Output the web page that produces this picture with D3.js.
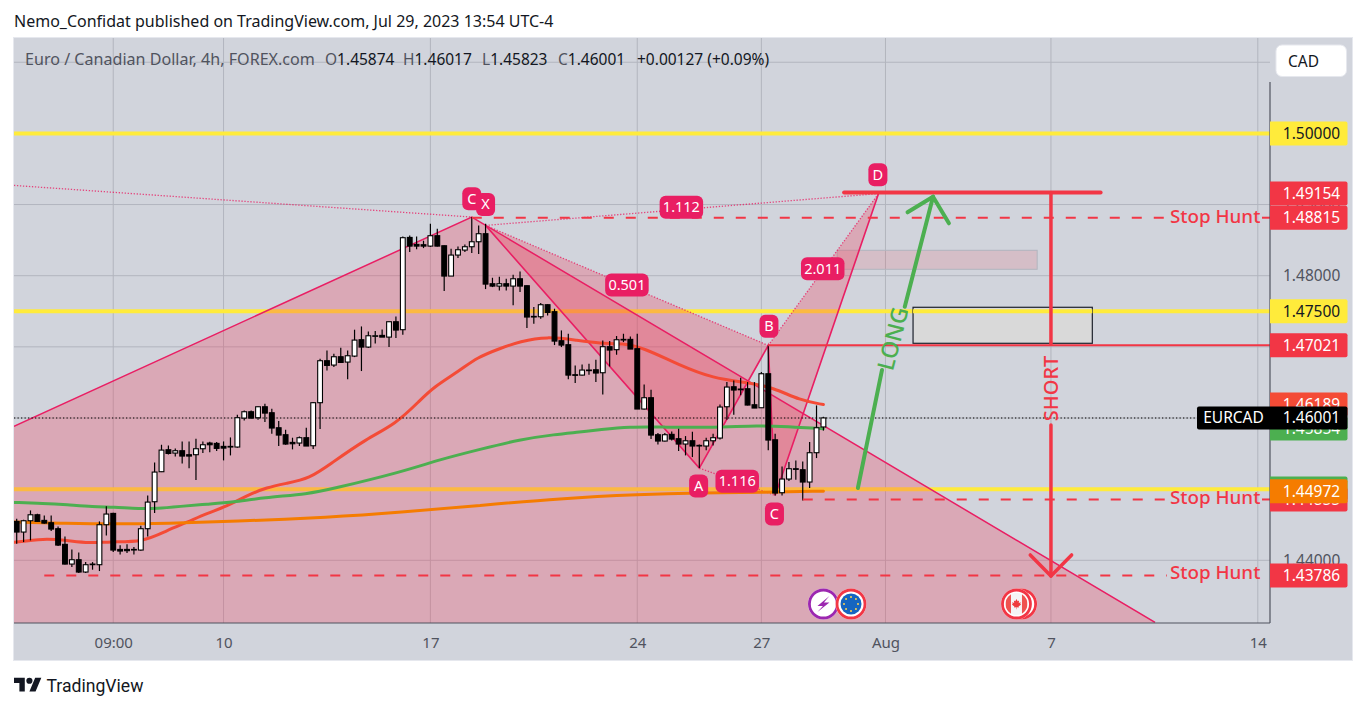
<!DOCTYPE html>
<html><head><meta charset="utf-8">
<script src="https://cdn.jsdelivr.net/npm/d3@7"></script>
<style>html,body{margin:0;padding:0;background:#fff;overflow:hidden}svg{display:block}text{font-family:"Noto Sans",sans-serif}</style>
</head><body><svg id="c" width="1366" height="709"></svg>
<script>
const opens=[1.44547,1.44397,1.44556,1.44640,1.44561,1.44528,1.44444,1.44224,1.43947,1.44008,1.43835,1.43942,1.43938,1.44500,1.44659,1.44153,1.44153,1.44153,1.44144,1.44444,1.44823,1.45245,1.45554,1.45507,1.45540,1.45484,1.45484,1.45568,1.45648,1.45643,1.45601,1.45601,1.45592,1.45999,1.46088,1.46004,1.46158,1.46074,1.45863,1.45765,1.45657,1.45648,1.45723,1.45610,1.46215,1.46805,1.46744,1.46861,1.46786,1.46870,1.47100,1.46997,1.47151,1.47161,1.47137,1.47353,1.47241,1.48538,1.48440,1.48435,1.48416,1.48562,1.48421,1.47995,1.48290,1.48360,1.48407,1.48477,1.48590,1.47887,1.47854,1.47887,1.47854,1.47957,1.47859,1.47428,1.47423,1.47592,1.47494,1.47086,1.47030,1.46608,1.46603,1.46674,1.46678,1.46636,1.47002,1.46960,1.47100,1.47105,1.46974,1.46126,1.46285,1.45765,1.45676,1.45770,1.45709,1.45634,1.45680,1.45615,1.45606,1.45680,1.45718,1.46158,1.46439,1.46407,1.46411,1.46186,1.46144,1.46622,1.45694,1.44950,1.45142,1.45287,1.45273,1.45100,1.45512,1.45874];
const highs=[1.44584,1.44570,1.44701,1.44655,1.44631,1.44631,1.44476,1.44336,1.44153,1.44111,1.43975,1.43975,1.44547,1.44758,1.44669,1.44210,1.44224,1.44186,1.44486,1.44912,1.45376,1.45624,1.45615,1.45573,1.45671,1.45671,1.45709,1.45671,1.45667,1.45662,1.45671,1.45727,1.46046,1.46107,1.46107,1.46163,1.46201,1.46130,1.45957,1.45835,1.45723,1.45741,1.45863,1.46224,1.46833,1.46950,1.46903,1.46988,1.46950,1.47241,1.47287,1.47217,1.47222,1.47245,1.47358,1.47428,1.48552,1.48566,1.48552,1.48491,1.48730,1.48660,1.48426,1.48379,1.48412,1.48440,1.48824,1.48707,1.48730,1.47971,1.47985,1.47957,1.48014,1.48060,1.47864,1.47559,1.47615,1.47597,1.47536,1.47231,1.47184,1.46739,1.46753,1.46763,1.46819,1.47091,1.47081,1.47152,1.47184,1.47147,1.47184,1.46472,1.46397,1.45788,1.45788,1.45812,1.45849,1.45746,1.45807,1.45629,1.45723,1.45779,1.46191,1.46505,1.46528,1.46566,1.46505,1.46505,1.46646,1.47020,1.45779,1.45320,1.45381,1.45404,1.45390,1.45662,1.46177,1.46017];
const lows=[1.44233,1.44256,1.44280,1.44537,1.44514,1.44411,1.44200,1.43942,1.43905,1.43821,1.43821,1.43868,1.43849,1.44350,1.44116,1.44083,1.44102,1.44083,1.44135,1.44336,1.44664,1.45240,1.45488,1.45460,1.45362,1.45292,1.45128,1.45507,1.45517,1.45535,1.45404,1.45474,1.45582,1.45966,1.45990,1.45976,1.45943,1.45779,1.45606,1.45624,1.45559,1.45606,1.45606,1.45563,1.45844,1.46669,1.46716,1.46772,1.46543,1.46856,1.46660,1.46983,1.47048,1.47137,1.46997,1.47123,1.47170,1.48332,1.48370,1.48388,1.48402,1.48412,1.47784,1.47995,1.48248,1.48332,1.48318,1.48304,1.47812,1.47840,1.47793,1.47793,1.47583,1.47770,1.47264,1.47325,1.47395,1.47442,1.47025,1.46997,1.46543,1.46491,1.46599,1.46608,1.46505,1.46332,1.46725,1.46889,1.47067,1.46969,1.46126,1.46121,1.45704,1.45629,1.45671,1.45685,1.45535,1.45474,1.45451,1.45296,1.45545,1.45615,1.45699,1.45976,1.46046,1.46318,1.46177,1.46140,1.46144,1.45545,1.44912,1.44912,1.45114,1.45132,1.44842,1.45015,1.45437,1.45823];
const closes=[1.44397,1.44556,1.44640,1.44547,1.44523,1.44439,1.44214,1.43947,1.44008,1.43835,1.43938,1.43947,1.44500,1.44650,1.44144,1.44130,1.44135,1.44148,1.44444,1.44818,1.45240,1.45549,1.45502,1.45540,1.45465,1.45465,1.45568,1.45624,1.45624,1.45573,1.45577,1.45592,1.46004,1.46088,1.45999,1.46158,1.46069,1.45859,1.45760,1.45634,1.45638,1.45723,1.45606,1.46215,1.46805,1.46739,1.46861,1.46781,1.46875,1.47095,1.46997,1.47156,1.47156,1.47137,1.47353,1.47236,1.48534,1.48416,1.48416,1.48416,1.48562,1.48416,1.47995,1.48290,1.48365,1.48407,1.48477,1.48590,1.47882,1.47854,1.47887,1.47854,1.47957,1.47854,1.47419,1.47423,1.47592,1.47484,1.47081,1.47025,1.46603,1.46603,1.46674,1.46669,1.46632,1.47002,1.46955,1.47100,1.47105,1.46969,1.46126,1.46285,1.45760,1.45676,1.45765,1.45704,1.45634,1.45680,1.45606,1.45610,1.45680,1.45723,1.46154,1.46435,1.46393,1.46397,1.46182,1.46140,1.46622,1.45690,1.44945,1.45142,1.45287,1.45278,1.45100,1.45512,1.45863,1.46001];

const redIdx=[-0.4,4,7.25,10.6,13.5,18.3,21.8,24.7,27.6,30.5,33.4,36.3,39.1,42.5,45.4,50.8,54.9,58.5,60.4,64.3,66.8,70.1,73,76.9,81.3,84.6,87.9,90.8,96.2,101,105.9,109.7,113.6,117];
const redVal=[1.44252,1.44308,1.44280,1.44237,1.44266,1.44252,1.44420,1.44533,1.44659,1.44758,1.44912,1.45025,1.45081,1.45151,1.45348,1.45714,1.45910,1.46247,1.46430,1.46669,1.46852,1.46978,1.47077,1.47147,1.47091,1.47048,1.47048,1.46992,1.46739,1.46557,1.46500,1.46430,1.46247,1.46189];
const greenIdx=[-0.4,3.9,7.25,11.1,14,17.9,20.3,23.7,27.6,31.4,35.7,42.5,45.4,55.6,61.4,67.2,73,78.1,81.7,84.6,88.9,93.7,101,107.8,111.7,117];
const greenVal=[1.44814,1.44800,1.44781,1.44753,1.44748,1.44725,1.44729,1.44757,1.44790,1.44818,1.44880,1.44936,1.44996,1.45235,1.45418,1.45559,1.45699,1.45769,1.45802,1.45836,1.45878,1.45872,1.45864,1.45896,1.45878,1.45850];
const orangeIdx=[-0.4,7.25,14,21.8,31.4,45.4,55.6,67.2,78.8,90.4,99.1,107.8,117];
const orangeVal=[1.44537,1.44519,1.44509,1.44519,1.44547,1.44603,1.44673,1.44772,1.44870,1.44926,1.44947,1.44954,1.44972];

const timeTicks=[14,30,60,90,108,126,150,180];
const timeLabels=["09:00","10","17","24","27","Aug","7","14"];
const priceTicks=[1.51,1.50,1.49,1.48,1.47,1.46,1.45,1.44];
const yellowLevels=[1.50,1.475,1.45];

// harmonic patterns as [candle index, price]
const bigPattern=[[-0.4,1.45882],[66,1.48824],[165.1,1.43127],[165.1,1.42],[-0.4,1.42]];
const bigEdge=[[-0.4,1.45882],[66,1.48824],[165.1,1.43127]];
const bigDotted=[[-0.4,1.49269],[66,1.48824]];
const ptX=[68,1.48707],ptA=[99,1.45296],ptB=[109,1.47020],ptC=[110,1.44912],ptD=[125,1.49154];
const patternLabels=[["C",66,1.49082],["X",68,1.49002],["1.112",96.4,1.48961],["0.501",88.5,1.47869],["2.011",116.9,1.48098],["B",109.1,1.47289],["D",124.9,1.49420],["A",98.9,1.45044],["1.116",104.5,1.45110],["C",109.9,1.44651]];

const stopLevels=[[66,1.48815],[114,1.44855],[4,1.43786]];
const priceTags=[
 ["1.50000",1.50000,"#ffeb3b","#131722"],
 ["1.47500",1.47500,"#ffeb3b","#131722"],
 ["1.47021",1.47021,"#f23645","#fff"],
 ["1.45854",1.45854,"#4caf50","#fff"],
 ["1.46189",1.46189,"#f44b36","#fff"],
 ["1.45010",1.45010,"#4caf50","#fff"],
 ["1.44855",1.44855,"#f23645","#fff"],
 ["1.44972",1.44972,"#f57c00","#fff"],
 ["1.43786",1.43786,"#f23645","#fff"],
 ["1.49154",1.49154,"#f23645","#fff"],
 ["1.48815",1.48815,"#f23645","#fff"]
];
const lastPrice=1.46001;

const svg=d3.select("#c");
const L=14,R=1270,T=38,B=623,PR=1352,PB=660;
const x=d3.scaleLinear().domain([0,180]).range([16.7,1257.8]);
const y=d3.scaleLinear().domain([1.5,1.44]).range([133.4,133.4+0.06*7115]);
const ln=d3.line().x(d=>x(d[0])).y(d=>y(d[1]));
const RED="#f23645",PINK="#e91e63",GREEN="#4caf50";
const FONT="'Noto Sans',sans-serif";

const defs=svg.append("defs");
defs.append("clipPath").attr("id","pane").append("rect").attr("x",L).attr("y",T).attr("width",R-L).attr("height",B-T);

// header
svg.append("text").attr("x",14).attr("y",27).attr("font-size",16).attr("fill","#131722").text("Nemo_Confidat published on TradingView.com, Jul 29, 2023 13:54 UTC-4");
// panel
svg.append("rect").attr("x",L-0.5).attr("y",T-0.5).attr("width",PR-L+1).attr("height",PB-T+1).attr("fill","#d1d4dc").attr("stroke","#e6e8ee");

const gridC="#b2b5be";
svg.append("g").selectAll("line").data(timeTicks).join("line").attr("x1",d=>x(d)).attr("x2",d=>x(d)).attr("y1",T).attr("y2",B).attr("stroke",gridC);
svg.append("g").selectAll("line").data(priceTicks).join("line").attr("x1",L).attr("x2",R).attr("y1",d=>y(d)).attr("y2",d=>y(d)).attr("stroke",gridC);

const pane=svg.append("g").attr("clip-path","url(#pane)");

// yellow levels
pane.selectAll(".yl").data(yellowLevels).join("line").attr("x1",L).attr("x2",R).attr("y1",d=>y(d)).attr("y2",d=>y(d)).attr("stroke","#ffeb3b").attr("stroke-width",4);

// pink rectangle
const PF="rgba(245,50,80,0.27)";
pane.append("rect").attr("x",x(119)).attr("width",x(148)-x(119)).attr("y",y(1.48357)).attr("height",y(1.48090)-y(1.48357)).attr("fill","rgba(242,54,69,0.14)").attr("stroke",gridC);

// patterns
pane.append("path").attr("d",ln(bigPattern)+"Z").attr("fill",PF);
pane.append("path").attr("d",ln([ptX,ptA,ptB])+"Z").attr("fill",PF);
pane.append("path").attr("d",ln([ptB,ptC,ptD])+"Z").attr("fill",PF);
pane.append("path").attr("d",ln(bigEdge)).attr("fill","none").attr("stroke",PINK).attr("stroke-width",1.5);
pane.append("path").attr("d",ln([ptX,ptA,ptB,ptC,ptD])).attr("fill","none").attr("stroke",PINK).attr("stroke-width",1.6);
[bigDotted,[ptX,ptB],[ptX,ptD],[ptB,ptD],[ptA,ptC]].forEach(s=>
 pane.append("path").attr("d",ln(s)).attr("fill","none").attr("stroke",PINK).attr("stroke-width",1.3).attr("stroke-dasharray","1.3 1.7").attr("opacity",.8));

// EMA lines
[[redIdx,redVal,"#f44b36"],[greenIdx,greenVal,GREEN],[orangeIdx,orangeVal,"#f57c00"]].forEach(([a,b,c])=>
 pane.append("path").attr("d",d3.line().x(d=>x(d)).y((d,i)=>y(b[i])).curve(d3.curveBasis)(a)).attr("fill","none").attr("stroke",c).attr("stroke-width",3).attr("stroke-linecap","round").attr("stroke-linejoin","round"));

// last price dotted
pane.append("line").attr("x1",L).attr("x2",R).attr("y1",y(lastPrice)).attr("y2",y(lastPrice)).attr("stroke","#000").attr("stroke-dasharray","1.3 2.2").attr("stroke-width",1.1);

// candles
const idx=d3.range(opens.length);
const cg=pane.append("g");
cg.selectAll("line").data(idx).join("line").attr("x1",i=>x(i)).attr("x2",i=>x(i)).attr("y1",i=>y(highs[i])).attr("y2",i=>y(lows[i])).attr("stroke","#000").attr("stroke-width",1.2);
cg.selectAll("rect").data(idx).join("rect")
 .attr("x",i=>x(i)-2.4).attr("width",4.8)
 .attr("y",i=>y(Math.max(opens[i],closes[i])))
 .attr("height",i=>Math.max(0.6,Math.abs(y(opens[i])-y(closes[i]))))
 .attr("fill",i=>closes[i]>=opens[i]?"#fff":"#000").attr("stroke","#000").attr("stroke-width",1.1);

// red drawings
pane.append("path").attr("d",ln([[120,1.49170],[157.2,1.49170]])).attr("stroke",RED).attr("stroke-width",4).attr("stroke-linecap","round").attr("fill","none");
pane.append("path").attr("d",ln([[109,1.47021],[185,1.47021]])).attr("stroke",RED).attr("stroke-width",2).attr("fill","none");
stopLevels.forEach((d,k)=>{
 const yy=y(d[1]);
 pane.append("line").attr("x1",x(d[0])).attr("x2",1167).attr("y1",yy).attr("y2",yy).attr("stroke",RED).attr("stroke-width",2).attr("stroke-dasharray","10 12");
 if(k<2)pane.append("line").attr("x1",1262).attr("x2",1270).attr("y1",yy).attr("y2",yy).attr("stroke",RED).attr("stroke-width",2);
 svg.append("text").attr("x",1170).attr("y",yy+(k==2?3:5)).attr("font-size",18.8).attr("font-weight",500).attr("fill",RED).text("Stop Hunt");
});
// grey box
pane.append("rect").attr("x",x(130)).attr("width",x(156)-x(130)).attr("y",y(1.47556)).attr("height",y(1.47050)-y(1.47556)).attr("fill","#d9d9d9").attr("stroke","#1e222d").attr("stroke-width",1.2);
pane.append("line").attr("x1",x(130)).attr("x2",x(156)).attr("y1",y(1.475)).attr("y2",y(1.475)).attr("stroke","#ffeb3b").attr("stroke-width",4);

// short arrow
const st=(pts,c,w)=>pane.append("path").attr("d",ln(pts)).attr("fill","none").attr("stroke",c).attr("stroke-width",w).attr("stroke-linecap","round").attr("stroke-linejoin","round");
st([[150,1.49154],[150,1.47040]],RED,3.5);
st([[150,1.45902],[150,1.43779]],RED,3.5);
st([[147,1.44075],[150,1.43779],[153,1.44075]],RED,3.5);
svg.append("text").attr("transform",`translate(${x(150)+7},${y(1.46415)}) rotate(-90)`).attr("text-anchor","middle").attr("font-size",20).attr("font-weight",500).attr("fill",RED).text("SHORT");
// long arrow
st([[122,1.45016],[125.5,1.46675]],GREEN,4);
st([[128.8,1.47564],[132.9,1.49110]],GREEN,4);
st([[129.2,1.48891],[132.9,1.49110],[135.2,1.48736]],GREEN,4);
svg.append("text").attr("transform",`translate(${x(127.2)+7},${y(1.47115)+2}) rotate(-75.5)`).attr("text-anchor","middle").attr("font-size",23).attr("font-weight",500).attr("fill",GREEN).text("LONG");

// pattern labels
const lg=svg.append("g");
patternLabels.forEach(d=>{
 const w=d[0].length>1?43.5:19, h=23, cx=x(d[1]), cy=y(d[2]);
 lg.append("rect").attr("x",cx-w/2).attr("y",cy-h/2).attr("width",w).attr("height",h).attr("rx",6).attr("fill",PINK);
 lg.append("text").attr("x",cx).attr("y",cy+5).attr("text-anchor","middle").attr("font-size",14.5).attr("fill","#fff").text(d[0]);
});

// events
const ev=svg.append("g");
const iy=604;
function ring(cx,c){
 ev.append("circle").attr("cx",cx).attr("cy",iy).attr("r",15.5).attr("fill","#fff");
 ev.append("circle").attr("cx",cx).attr("cy",iy).attr("r",14).attr("fill","#fff").attr("stroke",c).attr("stroke-width",2.8);}
ring(x(117),"#9c27b0");
const bx=x(117);
ev.append("path").attr("d",`M${bx+6},${iy-8} L${bx-6},${iy+2} L${bx-0.5},${iy+2} L${bx-6},${iy+8} L${bx+6},${iy-1.5} L${bx+0.5},${iy-1.5} Z`).attr("fill","#9c27b0");
ring(x(121),RED);
ev.append("circle").attr("cx",x(121)).attr("cy",iy).attr("r",10.5).attr("fill","#1565c0");
d3.range(8).forEach(k=>ev.append("circle").attr("cx",x(121)+7*Math.cos(k*Math.PI/4)).attr("cy",iy+7*Math.sin(k*Math.PI/4)).attr("r",1).attr("fill","#ffd54f"));
ring(x(145.75),RED);
ring(x(145),RED);
const cc=x(145);
ev.append("clipPath").attr("id","cf").append("circle").attr("cx",cc).attr("cy",iy).attr("r",11);
ev.append("g").attr("clip-path","url(#cf)").call(g=>{
 g.append("rect").attr("x",cc-11).attr("y",iy-11).attr("width",22).attr("height",22).attr("fill","#f5f5f5");
 g.append("rect").attr("x",cc-11).attr("y",iy-11).attr("width",5.5).attr("height",22).attr("fill","#ef5350");
 g.append("rect").attr("x",cc+5.5).attr("y",iy-11).attr("width",5.5).attr("height",22).attr("fill","#ef5350");
 g.append("path").attr("d",`M${cc},${iy-5} l1.2,2.2 l1.4,-.6 l-.3,2.3 l2,-.6 l-.6,1.7 l1,.6 l-2.6,2 l.3,1 l-2.2,-.3 v2 h-.4 v-2 l-2.2,.3 l.3,-1 l-2.6,-2 l1,-.6 l-.6,-1.7 l2,.6 l-.3,-2.3 l1.4,.6 Z`).attr("fill","#ef3c3c");
});

// axis lines
svg.append("line").attr("x1",L).attr("x2",R).attr("y1",B).attr("y2",B).attr("stroke","#50535e").attr("stroke-width",1.2);
svg.append("line").attr("x1",R).attr("x2",R).attr("y1",82).attr("y2",B).attr("stroke","#50535e").attr("stroke-width",1.2);

// axes
const xa=svg.append("g").attr("transform",`translate(0,${B+11})`).call(d3.axisBottom(x).tickValues(timeTicks).tickSize(0).tickFormat((d,i)=>timeLabels[i]));
xa.select(".domain").remove();
xa.selectAll("text").attr("font-size",15).attr("font-family",FONT).attr("fill","#50535e");
const ya=svg.append("g").attr("transform",`translate(${R},0)`).call(d3.axisRight(y).tickValues(priceTicks.slice(1)).tickSize(0).tickPadding(13).tickFormat(d3.format(".5f")));
ya.select(".domain").remove();
ya.selectAll("text").attr("font-size",15.5).attr("font-family",FONT).attr("fill","#50535e");

// price tags
const pg=svg.append("g");
const tagPath=(yy,h)=>`M${R},${yy-h/2} H${R+75.5} q2,0 2,2 V${yy+h/2-2} q0,2 -2,2 H${R} Z`;
priceTags.forEach(d=>{
 const yy=y(d[1]);
 pg.append("path").attr("d",tagPath(yy,24)).attr("fill",d[2]);
 pg.append("text").attr("x",1311.5).attr("y",yy+5.5).attr("font-size",15.5).attr("text-anchor","middle").attr("fill",d[3]).text(d[0]);
});
const lastY=y(lastPrice);
pg.append("path").attr("d",`M${R},${lastY-11.5} H${R+75.5} q2,0 2,2 V${lastY+9.5} q0,2 -2,2 H${R} Z`).attr("fill","#000");
pg.append("text").attr("x",1311.5).attr("y",lastY+5.5).attr("font-size",15.5).attr("text-anchor","middle").attr("fill","#fff").text("1.46001");
pg.append("path").attr("d",`M${R},${lastY-11.5} H1199 q-2,0 -2,2 V${lastY+9.5} q0,2 2,2 H${R} Z`).attr("fill","#000");
pg.append("text").attr("x",1233.5).attr("y",lastY+5.5).attr("font-size",15.5).attr("text-anchor","middle").attr("fill","#fff").text("EURCAD");

// CAD button
svg.append("rect").attr("x",1276).attr("y",45).attr("width",70.5).attr("height",31.5).attr("rx",6).attr("fill","#fff").attr("stroke","#e6e8ee");
svg.append("text").attr("x",1288).attr("y",66.5).attr("font-size",15.5).attr("fill","#131722").text("CAD");

// legend
const leg=svg.append("text").attr("y",65).attr("font-size",15.5).attr("fill","#50535e");
leg.append("tspan").attr("x",25).attr("font-size",16.1).text("Euro / Canadian Dollar, 4h, FOREX.com");
[["O","1.45874",325],["H","1.46017",403],["L","1.45823",482],["C","1.46001",558]].forEach(d=>{
 leg.append("tspan").attr("x",d[2]).text(d[0]);
 leg.append("tspan").attr("fill","#131722").text(d[1]);
});
leg.append("tspan").attr("x",637).attr("fill","#131722").text("+0.00127 (+0.09%)");

// TV logo
const logo=svg.append("g").attr("transform","translate(14,674.6) scale(0.77)").attr("fill","#131722");
logo.append("path").attr("d","M14 22H7V11H0V4h14v18zM28 22h-8l7.5-18h8L28 22z");
logo.append("circle").attr("cx",20).attr("cy",8).attr("r",4);
svg.append("text").attr("x",46.5).attr("y",692).attr("font-size",17.6).attr("fill","#131722").style("font-family","Roboto,sans-serif").text("TradingView");
</script></body></html>
